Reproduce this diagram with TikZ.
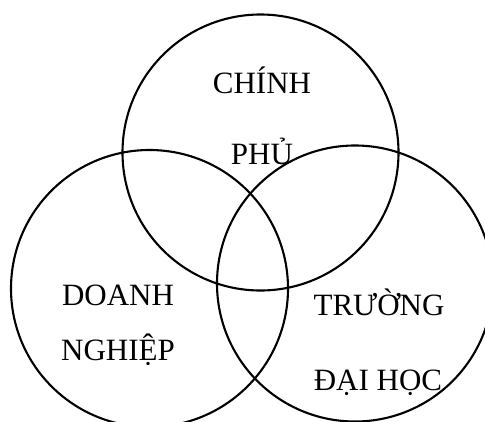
\documentclass[tikz,border=0pt]{standalone}
\usepackage{fontspec}
\setmainfont{Liberation Serif}
\begin{document}
\begin{tikzpicture}[x=1pt,y=-1pt,
  ring/.style={draw=black,line width=2.1pt},
  lbl/.style={anchor=base,inner sep=0pt,font=\fontsize{31}{37}\selectfont}]
\useasboundingbox (0,0) rectangle (485,421);
\fill[white] (0,0) rectangle (485,421);
\begin{scope}
\clip (0,0) rectangle (485,421);
\node[ring,circle,minimum size=276pt,inner sep=0pt] (gov) at (260.5,152.5) {};
\node[ring,circle,minimum size=277pt,inner sep=0pt] (biz) at (149.5,288.5) {};
\node[ring,circle,minimum size=276pt,inner sep=0pt] (uni) at (355,283.5) {};
\end{scope}
\node[lbl] (t1) at (262,93) {CHÍNH};
\node[lbl] (t2) at (262,164) {PHỦ};
\node[lbl] (t3) at (118,305) {DOANH};
\node[lbl] (t4) at (118,360) {NGHIỆP};
\node[lbl] (t5) at (379,315) {TRƯỜNG};
\node[lbl] (t6) at (378,390) {ĐẠI HỌC};
\end{tikzpicture}
\end{document}
